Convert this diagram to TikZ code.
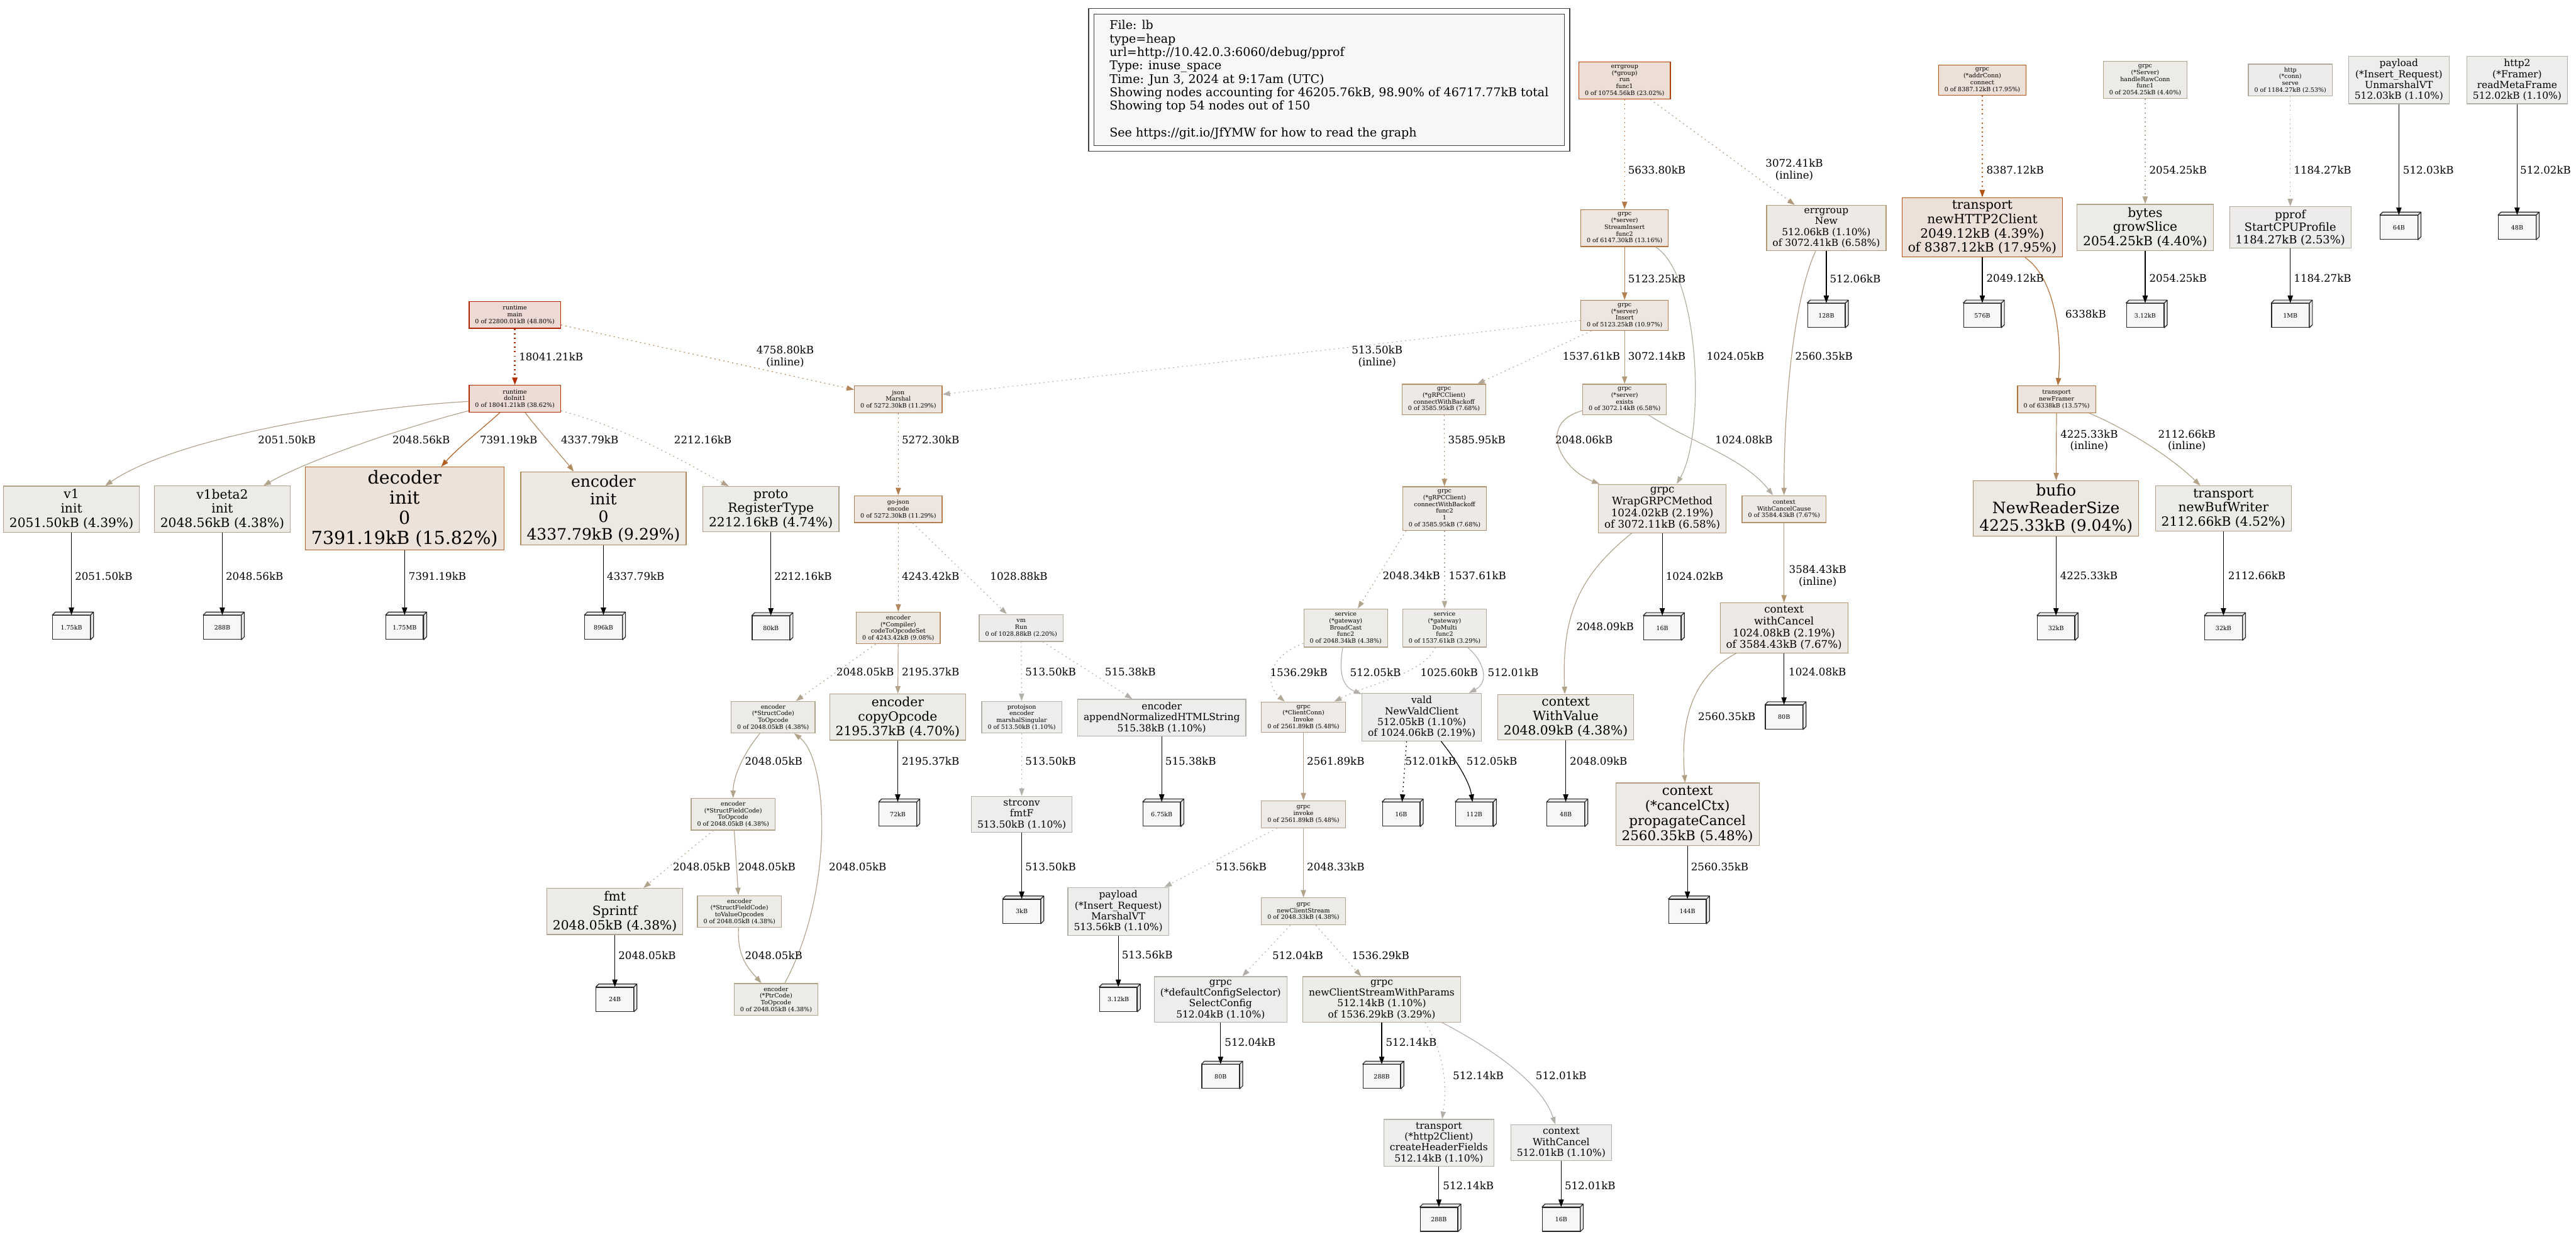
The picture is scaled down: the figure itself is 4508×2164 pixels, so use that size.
\documentclass[tikz,border=0pt]{standalone}
\usepackage{fontspec}
\setmainfont{DejaVu Serif}
\usetikzlibrary{arrows.meta}

% pprof colour scale: #1 = kB, #2 = 1 for fill, 0 for line
\newcommand\ppcol[2]{%
  \edef\ppsc{\fpeval{min(1,#1/46717.77)}}%
  \edef\ppsat{\fpeval{(#2==1 ? 0.1 : 1)*(\ppsc<0.2 ? \ppsc/0.2 : 1)}}%
  \edef\ppval{\fpeval{#2==1 ? 0.93 : 0.7}}%
  \edef\ppg{\fpeval{round(\ppval*(1-\ppsat*\ppsc^0.3),4)}}%
  \edef\ppb{\fpeval{round(\ppval*(1-\ppsat),4)}}%
}

\begin{document}
\begin{tikzpicture}[x=0.763pt,y=-0.763pt,
  fs/.style={font=\fontsize{#1}{\fpeval{1.12*#1}}\selectfont},
  fnode/.style={rectangle,align=center,inner xsep=8pt,inner ysep=4pt,line width=1pt,minimum width=54pt,minimum height=36pt},
  nc/.code={\ppcol{#1}{0}\edef\ppfg{rgb,1:red,\ppval;green,\ppg;blue,\ppb}%
    \ppcol{#1}{1}\edef\ppbg{rgb,1:red,\ppval;green,\ppg;blue,\ppb}%
    \edef\pptmp{\noexpand\tikzset{draw={\ppfg},fill={\ppbg}}}\pptmp},
  ec/.code={\ppcol{#1}{0}\edef\pptmp{\noexpand\tikzset{draw={rgb,1:red,\ppval;green,\ppg;blue,\ppb}}}\pptmp},
  leaf/.style={draw=black!85,fill=black!3,line width=1pt,minimum width=50pt,minimum height=32pt,inner sep=0pt,fs=8,
    append after command={\pgfextra{\edef\lfn{\tikzlastnode}%
      \draw[black!85,line width=1pt,fill=black!8,line join=round]
        (\lfn.north west) -- ++(4pt,4pt) -- ([shift={(4pt,4pt)}]\lfn.north east)
        -- ([shift={(4pt,4pt)}]\lfn.south east) -- (\lfn.south east) -- (\lfn.north east) -- cycle
        (\lfn.north east) -- ++(4pt,4pt);}}},
  call/.style={line width=1pt,-{Triangle[length=10pt,width=7pt]}},
  resid/.style={dash pattern=on 1.6pt off 4.4pt},
  lk/.style={call,draw=black},
  lab/.style={fs=14,inner sep=0pt,align=center},
  legendbox/.style={draw=black!75,double,double distance=6.4pt,line width=1pt,fill=black!3,fs=16,align=left,minimum width=635pt,minimum height=183pt}]
\useasboundingbox (0,0) rectangle (4508,2164);

\node[legendbox] (legend) at (2326,140) {File: lb\\type=heap\\url=http://10.42.0.3:6060/debug/pprof\\Type: inuse\_space\\Time: Jun 3, 2024 at 9:17am (UTC)\\Showing nodes accounting for 46205.76kB, 98.90\% of 46717.77kB total\\Showing top 54 nodes out of 150\\[18pt]See https://git.io/JfYMW for how to read the graph};

% runtime and init
\node[fnode,fs=8,nc=22800.01] (main) at (901,551) {runtime\\main\\0 of 22800.01kB (48.80\%)};
\node[fnode,fs=8,nc=18041.21] (doinit) at (901,698) {runtime\\doInit1\\0 of 18041.21kB (38.62\%)};
\node[fnode,fs=17,nc=2051.50] (v1) at (125,891) {v1\\init\\2051.50kB (4.39\%)};
\node[fnode,fs=17,nc=2048.56] (v1b) at (389,891) {v1beta2\\init\\2048.56kB (4.38\%)};
\node[fnode,fs=24,nc=7391.19] (decoder) at (708,890) {decoder\\init\\0\\7391.19kB (15.82\%)};
\node[fnode,fs=21,nc=4337.79] (encinit) at (1056,890) {encoder\\init\\0\\4337.79kB (9.29\%)};
\node[fnode,fs=17,nc=2212.16] (proto) at (1349,891) {proto\\RegisterType\\2212.16kB (4.74\%)};

% json encoding
\node[fnode,fs=8,nc=5272.30] (jsonm) at (1572,699) {json\\Marshal\\0 of 5272.30kB (11.29\%)};
\node[fnode,fs=8,nc=5272.30] (gojson) at (1572,891) {go-json\\encode\\0 of 5272.30kB (11.29\%)};
\node[fnode,fs=8,nc=4243.42] (opset) at (1572,1099) {encoder\\(*Compiler)\\codeToOpcodeSet\\0 of 4243.42kB (9.08\%)};
\node[fnode,fs=8,nc=1028.88] (vmrun) at (1787,1099) {vm\\Run\\0 of 1028.88kB (2.20\%)};
\node[fnode,fs=8,nc=2048.05] (structc) at (1353,1255) {encoder\\(*StructCode)\\ToOpcode\\0 of 2048.05kB (4.38\%)};
\node[fnode,fs=17,nc=2195.37] (copyop) at (1571,1255) {encoder\\copyOpcode\\2195.37kB (4.70\%)};
\node[fnode,fs=8,nc=513.50] (pjson) at (1788,1255) {protojson\\encoder\\marshalSingular\\0 of 513.50kB (1.10\%)};
\node[fnode,fs=13,nc=515.38] (htmlstr) at (2033,1256) {encoder\\appendNormalizedHTMLString\\515.38kB (1.10\%)};
\node[fnode,fs=8,nc=2048.05] (sfield) at (1283,1425) {encoder\\(*StructFieldCode)\\ToOpcode\\0 of 2048.05kB (4.38\%)};
\node[fnode,fs=13,nc=513.50] (fmtf) at (1788,1425) {strconv\\fmtF\\513.50kB (1.10\%)};
\node[fnode,fs=17,nc=2048.05] (sprintf) at (1076,1595) {fmt\\Sprintf\\2048.05kB (4.38\%)};
\node[fnode,fs=8,nc=2048.05] (toval) at (1294,1595) {encoder\\(*StructFieldCode)\\toValueOpcodes\\0 of 2048.05kB (4.38\%)};
\node[fnode,fs=8,nc=2048.05] (ptrc) at (1358,1749) {encoder\\(*PtrCode)\\ToOpcode\\0 of 2048.05kB (4.38\%)};

% grpc server side
\node[fnode,fs=8,nc=10754.56] (errgrp) at (2843,141) {errgroup\\(*group)\\run\\func1\\0 of 10754.56kB (23.02\%)};
\node[fnode,fs=8,nc=6147.30] (strins) at (2843,399) {grpc\\(*server)\\StreamInsert\\func2\\0 of 6147.30kB (13.16\%)};
\node[fnode,fs=13,nc=3072.41] (egnew) at (3196,399) {errgroup\\New\\512.06kB (1.10\%)\\of 3072.41kB (6.58\%)};
\node[fnode,fs=8,nc=5123.25] (insert) at (2843,552) {grpc\\(*server)\\Insert\\0 of 5123.25kB (10.97\%)};
\node[fnode,fs=8,nc=3585.95] (backoff) at (2527,699) {grpc\\(*gRPCClient)\\connectWithBackoff\\0 of 3585.95kB (7.68\%)};
\node[fnode,fs=8,nc=3072.14] (exists) at (2843,699) {grpc\\(*server)\\exists\\0 of 3072.14kB (6.58\%)};
\node[fnode,fs=8,nc=3585.95] (bofunc) at (2528,890) {grpc\\(*gRPCClient)\\connectWithBackoff\\func2\\1\\0 of 3585.95kB (7.68\%)};
\node[fnode,fs=14,nc=3072.11] (wrapg) at (2909,890) {grpc\\WrapGRPCMethod\\1024.02kB (2.19\%)\\of 3072.11kB (6.58\%)};
\node[fnode,fs=8,nc=3584.43] (ccause) at (3122,891) {context\\WithCancelCause\\0 of 3584.43kB (7.67\%)};
\node[fnode,fs=8,nc=2048.34] (bcast) at (2355,1099) {service\\(*gateway)\\BroadCast\\func2\\0 of 2048.34kB (4.38\%)};
\node[fnode,fs=8,nc=1537.61] (dmulti) at (2528,1099) {service\\(*gateway)\\DoMulti\\func2\\0 of 1537.61kB (3.29\%)};
\node[fnode,fs=14,nc=3584.43] (wcl) at (3122,1099) {context\\withCancel\\1024.08kB (2.19\%)\\of 3584.43kB (7.67\%)};
\node[fnode,fs=8,nc=2561.89] (ccinv) at (2281,1255) {grpc\\(*ClientConn)\\Invoke\\0 of 2561.89kB (5.48\%)};
\node[fnode,fs=13,nc=1024.06] (vald) at (2488,1255) {vald\\NewValdClient\\512.05kB (1.10\%)\\of 1024.06kB (2.19\%)};
\node[fnode,fs=17,nc=2048.09] (wvalue) at (2740,1255) {context\\WithValue\\2048.09kB (4.38\%)};
\node[fnode,fs=8,nc=2561.89] (invoke) at (2281,1425) {grpc\\invoke\\0 of 2561.89kB (5.48\%)};
\node[fnode,fs=18,nc=2560.35] (propc) at (2953,1425) {context\\(*cancelCtx)\\propagateCancel\\2560.35kB (5.48\%)};
\node[fnode,fs=13,nc=513.56] (mvt) at (1957,1595) {payload\\(*Insert\_Request)\\MarshalVT\\513.56kB (1.10\%)};
\node[fnode,fs=8,nc=2048.33] (newcs) at (2281,1595) {grpc\\newClientStream\\0 of 2048.33kB (4.38\%)};
\node[fnode,fs=13,nc=512.04] (selcfg) at (2136,1749) {grpc\\(*defaultConfigSelector)\\SelectConfig\\512.04kB (1.10\%)};
\node[fnode,fs=13,nc=1536.29] (csparams) at (2418,1749) {grpc\\newClientStreamWithParams\\512.14kB (1.10\%)\\of 1536.29kB (3.29\%)};
\node[fnode,fs=13,nc=512.14] (hdrf) at (2518,2000) {transport\\(*http2Client)\\createHeaderFields\\512.14kB (1.10\%)};
\node[fnode,fs=13,nc=512.01] (wcancel) at (2732,2000) {context\\WithCancel\\512.01kB (1.10\%)};

% transport and the rest
\node[fnode,fs=8,nc=8387.12] (addrc) at (3469,140) {grpc\\(*addrConn)\\connect\\0 of 8387.12kB (17.95\%)};
\node[fnode,fs=8,nc=2054.25] (rawc) at (3754,140) {grpc\\(*Server)\\handleRawConn\\func1\\0 of 2054.25kB (4.40\%)};
\node[fnode,fs=8,nc=1184.27] (serve) at (4008,140) {http\\(*conn)\\serve\\0 of 1184.27kB (2.53\%)};
\node[fnode,fs=13,nc=512.03] (umvt) at (4198,140) {payload\\(*Insert\_Request)\\UnmarshalVT\\512.03kB (1.10\%)};
\node[fnode,fs=13,nc=512.02] (rmf) at (4405,140) {http2\\(*Framer)\\readMetaFrame\\512.02kB (1.10\%)};
\node[fnode,fs=17,nc=8387.12] (h2c) at (3469,398) {transport\\newHTTP2Client\\2049.12kB (4.39\%)\\of 8387.12kB (17.95\%)};
\node[fnode,fs=17,nc=2054.25] (gslice) at (3754,398) {bytes\\growSlice\\2054.25kB (4.40\%)};
\node[fnode,fs=15,nc=1184.27] (cpup) at (4008,398) {pprof\\StartCPUProfile\\1184.27kB (2.53\%)};
\node[fnode,fs=8,nc=6338] (nframer) at (3599,699) {transport\\newFramer\\0 of 6338kB (13.57\%)};
\node[fnode,fs=21,nc=4225.33] (rsize) at (3598,890) {bufio\\NewReaderSize\\4225.33kB (9.04\%)};
\node[fnode,fs=17,nc=2112.66] (bwriter) at (3891,890) {transport\\newBufWriter\\2112.66kB (4.52\%)};

% allocation sizes
\node[leaf] (lv1) at (125,1098) {1.75kB};
\node[leaf] (lv1b) at (389,1098) {288B};
\node[leaf] (ldec) at (708,1098) {1.75MB};
\node[leaf] (lenc) at (1056,1098) {896kB};
\node[leaf] (lproto) at (1349,1099) {80kB};
\node[leaf] (lcopy) at (1571,1425) {72kB};
\node[leaf] (lhtml) at (2033,1425) {6.75kB};
\node[leaf] (lfmtf) at (1788,1595) {3kB};
\node[leaf] (lsprintf) at (1076,1749) {24B};
\node[leaf] (lmvt) at (1957,1749) {3.12kB};
\node[leaf] (lselcfg) at (2136,1884) {80B};
\node[leaf] (lparams) at (2418,1884) {288B};
\node[leaf] (lhdrf) at (2518,2134) {288B};
\node[leaf] (lwcancel) at (2732,2134) {16B};
\node[leaf] (lvalda) at (2452,1425) {16B};
\node[leaf] (lvaldb) at (2580,1425) {112B};
\node[leaf] (lwvalue) at (2740,1425) {48B};
\node[leaf] (lwrapg) at (2909,1099) {16B};
\node[leaf] (lwcl) at (3122,1255) {80B};
\node[leaf] (lpropc) at (2953,1595) {144B};
\node[leaf] (legnew) at (3196,552) {128B};
\node[leaf] (lh2c) at (3469,552) {576B};
\node[leaf] (lgslice) at (3754,552) {3.12kB};
\node[leaf] (lcpup) at (4008,552) {1MB};
\node[leaf] (lumvt) at (4198,398) {64B};
\node[leaf] (lrmf) at (4405,398) {48B};
\node[leaf] (lrsize) at (3598,1099) {32kB};
\node[leaf] (lbwriter) at (3891,1099) {32kB};

% call edges
\draw[call,resid,ec=18041.21,line width=2pt] (main) -- (doinit);
\draw[call,resid,ec=4758.80] (main) -- (jsonm);
\draw[call,ec=2051.50] (doinit) .. controls (600,715) and (300,770) .. (v1);
\draw[call,ec=2048.56] (doinit) .. controls (700,750) and (540,805) .. (v1b);
\draw[call,ec=7391.19] (doinit) .. controls (850,745) and (800,785) .. (decoder);
\draw[call,ec=4337.79] (doinit) .. controls (940,750) and (980,795) .. (encinit);
\draw[call,resid,ec=2212.16] (doinit) .. controls (1100,750) and (1200,810) .. (proto);
\draw[call,resid,ec=5272.30] (jsonm) -- (gojson);
\draw[call,resid,ec=4243.42] (gojson) -- (opset);
\draw[call,resid,ec=1028.88] (gojson) -- (vmrun);
\draw[call,resid,ec=2048.05] (opset) -- (structc);
\draw[call,ec=2195.37] (opset) -- (copyop);
\draw[call,resid,ec=513.50] (vmrun) -- (pjson);
\draw[call,resid,ec=515.38] (vmrun) -- (htmlstr);
\draw[call,resid,ec=513.50] (pjson) -- (fmtf);
\draw[call,ec=2048.05] (structc) .. controls (1300,1320) and (1283,1360) .. (sfield);
\draw[call,resid,ec=2048.05] (sfield) -- (sprintf);
\draw[call,ec=2048.05] (sfield) -- (toval);
\draw[call,ec=2048.05] (toval) .. controls (1290,1670) and (1305,1690) .. (ptrc);
\draw[call,ec=2048.05] (ptrc) .. controls (1460,1560) and (1450,1330) .. (structc);
\draw[call,resid,ec=5633.80] (errgrp) -- (strins);
\draw[call,resid,ec=3072.41] (errgrp) -- (egnew);
\draw[call,ec=5123.25] (strins) -- (insert);
\draw[call,ec=1024.05] (strins) .. controls (2975,480) and (2985,760) .. (wrapg);
\draw[call,resid,ec=513.50] (insert) -- (jsonm);
\draw[call,resid,ec=1537.61] (insert) -- (backoff);
\draw[call,ec=3072.14] (insert) -- (exists);
\draw[call,ec=2560.35] (egnew) .. controls (3140,520) and (3122,700) .. (ccause);
\draw[call,ec=2048.06] (exists) .. controls (2690,740) and (2730,820) .. (wrapg);
\draw[call,ec=1024.08] (exists) .. controls (2960,775) and (3050,800) .. (ccause);
\draw[call,resid,ec=3585.95] (backoff) -- (bofunc);
\draw[call,resid,ec=2048.34] (bofunc.210) -- (bcast);
\draw[call,resid,ec=1537.61] (bofunc) -- (dmulti);
\draw[call,resid,ec=1536.29] (bcast.200) .. controls (2215,1150) and (2215,1200) .. (ccinv);
\draw[call,ec=512.05] (bcast) .. controls (2344,1170) and (2345,1200) .. (vald);
\draw[call,resid,ec=1025.60] (dmulti) .. controls (2490,1180) and (2400,1195) .. (ccinv);
\draw[call,ec=512.01] (dmulti) .. controls (2600,1160) and (2605,1195) .. (vald);
\draw[call,ec=2561.89] (ccinv) -- (invoke);
\draw[call,resid,ec=513.56] (invoke) -- (mvt);
\draw[call,ec=2048.33] (invoke) -- (newcs);
\draw[call,resid,ec=512.04] (newcs) -- (selcfg);
\draw[call,resid,ec=1536.29] (newcs) -- (csparams);
\draw[call,resid,ec=512.14] (csparams.332) .. controls (2530,1850) and (2532,1900) .. (hdrf);
\draw[call,ec=512.01] (csparams.339) .. controls (2620,1840) and (2700,1900) .. (wcancel);
\draw[call,ec=2048.09] (wrapg) .. controls (2760,1010) and (2733,1080) .. (wvalue);
\draw[call,ec=3584.43] (ccause) -- (wcl);
\draw[call,ec=2560.35] (wcl) .. controls (2950,1190) and (2942,1280) .. (propc);
\draw[call,resid,ec=8387.12] (addrc) -- (h2c);
\draw[call,ec=6338] (h2c) .. controls (3600,490) and (3608,600) .. (nframer);
\draw[call,ec=4225.33] (nframer) -- (rsize);
\draw[call,ec=2112.66] (nframer) .. controls (3720,750) and (3800,800) .. (bwriter);
\draw[call,resid,ec=2054.25] (rawc) -- (gslice);
\draw[call,resid,ec=1184.27] (serve) -- (cpup);

% edges to allocation sizes
\draw[lk] (v1) -- (lv1);
\draw[lk] (v1b) -- (lv1b);
\draw[lk] (decoder) -- (ldec);
\draw[lk] (encinit) -- (lenc);
\draw[lk] (proto) -- (lproto);
\draw[lk] (copyop) -- (lcopy);
\draw[lk] (htmlstr) -- (lhtml);
\draw[lk] (fmtf) -- (lfmtf);
\draw[lk] (sprintf) -- (lsprintf);
\draw[lk] (mvt) -- (lmvt);
\draw[lk] (selcfg) -- (lselcfg);
\draw[lk] (csparams) -- (lparams);
\draw[lk] (hdrf) -- (lhdrf);
\draw[lk] (wcancel) -- (lwcancel);
\draw[lk,resid] (vald.238) -- (lvalda);
\draw[lk] (vald) .. controls (2552,1335) and (2572,1370) .. (lvaldb);
\draw[lk] (wvalue) -- (lwvalue);
\draw[lk] (wrapg) -- (lwrapg);
\draw[lk] (wcl) -- (lwcl);
\draw[lk] (propc) -- (lpropc);
\draw[lk] (egnew) -- (legnew);
\draw[lk] (h2c) -- (lh2c);
\draw[lk] (gslice) -- (lgslice);
\draw[lk] (cpup) -- (lcpup);
\draw[lk] (umvt) -- (lumvt);
\draw[lk] (rmf) -- (lrmf);
\draw[lk] (rsize) -- (lrsize);
\draw[lk] (bwriter) -- (lbwriter);

% edge labels
\node[lab,anchor=west] (t1) at (908,624) {18041.21kB};
\node[lab] (t2) at (1374,624) {4758.80kB\\(inline)};
\node[lab] (t3) at (502,770) {2051.50kB};
\node[lab] (t4) at (737,770) {2048.56kB};
\node[lab] (t5) at (890,770) {7391.19kB};
\node[lab] (t6) at (1032,770) {4337.79kB};
\node[lab] (t7) at (1230,770) {2212.16kB};
\node[lab,anchor=west] (t8) at (131,1008) {2051.50kB};
\node[lab,anchor=west] (t9) at (395,1008) {2048.56kB};
\node[lab,anchor=west] (t10) at (715,1008) {7391.19kB};
\node[lab,anchor=west] (t11) at (1062,1008) {4337.79kB};
\node[lab,anchor=west] (t12) at (1355,1008) {2212.16kB};
\node[lab,anchor=west] (t13) at (1578,770) {5272.30kB};
\node[lab,anchor=west] (t14) at (1578,1008) {4243.42kB};
\node[lab] (t15) at (1783,1008) {1028.88kB};
\node[lab] (t16) at (1514,1176) {2048.05kB};
\node[lab,anchor=west] (t17) at (1578,1176) {2195.37kB};
\node[lab,anchor=west] (t18) at (1794,1176) {513.50kB};
\node[lab] (t19) at (1978,1176) {515.38kB};
\node[lab,anchor=west] (t20) at (1578,1332) {2195.37kB};
\node[lab,anchor=west] (t21) at (1794,1332) {513.50kB};
\node[lab,anchor=west] (t22) at (2039,1332) {515.38kB};
\node[lab] (t23) at (1354,1332) {2048.05kB};
\node[lab] (t24) at (1228,1517) {2048.05kB};
\node[lab] (t25) at (1342,1517) {2048.05kB};
\node[lab] (t26) at (1501,1517) {2048.05kB};
\node[lab,anchor=west] (t27) at (1794,1517) {513.50kB};
\node[lab,anchor=west] (t28) at (1082,1672) {2048.05kB};
\node[lab] (t29) at (1354,1672) {2048.05kB};
\node[lab,anchor=west] (t30) at (1963,1671) {513.56kB};
\node[lab] (t31) at (2172,1517) {513.56kB};
\node[lab,anchor=west] (t32) at (2287,1517) {2048.33kB};
\node[lab] (t33) at (2271,1672) {512.04kB};
\node[lab] (t34) at (2416,1672) {1536.29kB};
\node[lab,anchor=west] (t35) at (2143,1824) {512.04kB};
\node[lab,anchor=west] (t36) at (2425,1824) {512.14kB};
\node[lab] (t37) at (2587,1882) {512.14kB};
\node[lab] (t38) at (2732,1882) {512.01kB};
\node[lab,anchor=west] (t39) at (2525,2075) {512.14kB};
\node[lab,anchor=west] (t40) at (2738,2075) {512.01kB};
\node[lab,anchor=west] (t41) at (2287,1332) {2561.89kB};
\node[lab,anchor=west] (t42) at (2459,1332) {512.01kB};
\node[lab,anchor=west] (t43) at (2566,1332) {512.05kB};
\node[lab,anchor=west] (t44) at (2747,1332) {2048.09kB};
\node[lab] (t45) at (2273,1177) {1536.29kB};
\node[lab] (t46) at (2407,1177) {512.05kB};
\node[lab] (t47) at (2536,1177) {1025.60kB};
\node[lab] (t48) at (2648,1177) {512.01kB};
\node[lab] (t49) at (2470,1007) {2048.34kB};
\node[lab,anchor=west] (t50) at (2535,1007) {1537.61kB};
\node[lab,anchor=west] (t51) at (2534,770) {3585.95kB};
\node[lab] (t52) at (2785,623) {1537.61kB};
\node[lab,anchor=west] (t53) at (2849,623) {3072.14kB};
\node[lab] (t54) at (3037,623) {1024.05kB};
\node[lab] (t55) at (3192,623) {2560.35kB};
\node[lab] (t56) at (2410,624) {513.50kB\\(inline)};
\node[lab,anchor=west] (t57) at (2849,298) {5633.80kB};
\node[lab] (t58) at (3140,297) {3072.41kB\\(inline)};
\node[lab,anchor=west] (t59) at (2849,488) {5123.25kB};
\node[lab,anchor=west] (t60) at (3202,488) {512.06kB};
\node[lab] (t61) at (2772,770) {2048.06kB};
\node[lab] (t62) at (3052,770) {1024.08kB};
\node[lab,anchor=west] (t63) at (2915,1008) {1024.02kB};
\node[lab] (t64) at (2809,1097) {2048.09kB};
\node[lab] (t65) at (3181,1008) {3584.43kB\\(inline)};
\node[lab,anchor=west] (t66) at (3130,1176) {1024.08kB};
\node[lab] (t67) at (3022,1254) {2560.35kB};
\node[lab,anchor=west] (t68) at (2959,1517) {2560.35kB};
\node[lab,anchor=west] (t69) at (3476,297) {8387.12kB};
\node[lab,anchor=west] (t70) at (3761,297) {2054.25kB};
\node[lab,anchor=west] (t71) at (4014,297) {1184.27kB};
\node[lab,anchor=west] (t72) at (4205,297) {512.03kB};
\node[lab,anchor=west] (t73) at (4410,297) {512.02kB};
\node[lab,anchor=west] (t74) at (3476,487) {2049.12kB};
\node[lab,anchor=west] (t75) at (3761,487) {2054.25kB};
\node[lab,anchor=west] (t76) at (4014,487) {1184.27kB};
\node[lab] (t77) at (3650,550) {6338kB};
\node[lab] (t78) at (3656,771) {4225.33kB\\(inline)};
\node[lab] (t79) at (3827,771) {2112.66kB\\(inline)};
\node[lab,anchor=west] (t80) at (3605,1007) {4225.33kB};
\node[lab,anchor=west] (t81) at (3899,1007) {2112.66kB};
\end{tikzpicture}
\end{document}
